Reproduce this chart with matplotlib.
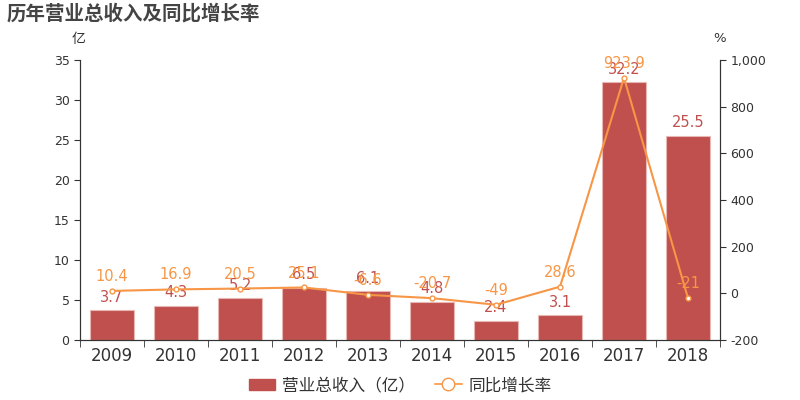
import matplotlib.pyplot as plt
import numpy as np
from matplotlib.patches import Patch
from matplotlib.lines import Line2D

plt.rcParams['font.family'] = ['DejaVu Sans', 'Noto Sans CJK SC']

years = ['2009', '2010', '2011', '2012', '2013', '2014', '2015', '2016', '2017', '2018']
revenue = [3.7, 4.3, 5.2, 6.5, 6.1, 4.8, 2.4, 3.1, 32.2, 25.5]
growth = [10.4, 16.9, 20.5, 25.1, -6.6, -20.7, -49, 28.6, 923.9, -21]
growth_labels = ['10.4', '16.9', '20.5', '25.1', '-6.6', '-20.7', '-49', '28.6', '923.9', '-21']

bar_color = '#c0504d'
line_color = '#f79646'
text_color = '#333333'

fig = plt.figure(figsize=(8, 4), dpi=100)
ax = fig.add_axes([0.1, 0.15, 0.8, 0.7])
ax2 = ax.twinx()

x = np.arange(len(years))
ax.bar(x, revenue, width=0.69, color=bar_color, edgecolor='#e8b8b6', linewidth=0.8, zorder=2)
for xi, v in zip(x, revenue):
    ax.annotate(f"{v}", xy=(xi, v), xytext=(0, 4), textcoords='offset points',
                ha='center', va='bottom', color=bar_color, fontsize=10.5, zorder=5)

ax2.plot(x, growth, color=line_color, linewidth=1.5, marker='o', markersize=3.5,
         markerfacecolor='white', markeredgecolor=line_color, zorder=3)
for xi, v, lab in zip(x, growth, growth_labels):
    ax2.annotate(lab, xy=(xi, v), xytext=(0, 5), textcoords='offset points',
                 ha='center', va='bottom', color=line_color, fontsize=10.5, zorder=5)

ax.set_xlim(-0.5, len(years) - 0.5)
ax.set_ylim(0, 35)
ax.set_yticks(np.arange(0, 36, 5))
ax2.set_ylim(-200, 1000)
ax2.set_yticks(np.arange(-200, 1001, 200))
ax2.set_yticklabels([f"{t:,}" for t in range(-200, 1001, 200)])

ax.set_xticks(x)
ax.set_xticklabels(years, fontsize=12, color=text_color)
ax.set_xticks(np.arange(-0.5, len(years), 1), minor=True)
ax.tick_params(axis='x', which='major', length=0, pad=5)
ax.tick_params(axis='x', which='minor', length=5, color=text_color)
ax.tick_params(axis='y', labelsize=9, colors=text_color, length=4)
ax2.tick_params(axis='y', labelsize=9, colors=text_color, length=4)

for a in (ax, ax2):
    a.spines['top'].set_visible(False)
    for s in ('left', 'right', 'bottom'):
        a.spines[s].set_color(text_color)

ax.set_zorder(ax2.get_zorder() - 1)
ax2.patch.set_visible(False)

fig.text(0.008, 0.965, '历年营业总收入及同比增长率', fontsize=14, fontweight='bold',
         color='#444444', ha='left', va='center')
fig.text(0.098, 0.903, '亿', fontsize=10, color=text_color, ha='center', va='center')
fig.text(0.9, 0.903, '%', fontsize=9.5, color=text_color, ha='center', va='center')

handles = [Patch(facecolor=bar_color, edgecolor=bar_color),
           Line2D([0], [0], color=line_color, marker='o', markersize=9,
                  markerfacecolor='white', markeredgecolor=line_color, linewidth=1.2)]
fig.legend(handles, ['营业总收入（亿）', '同比增长率'], loc='center', bbox_to_anchor=(0.5, 0.037),
           ncol=2, frameon=False, fontsize=12, handlelength=1.6, columnspacing=1.2,
           handletextpad=0.4, labelcolor=text_color)

plt.savefig('out.png', dpi=100)
